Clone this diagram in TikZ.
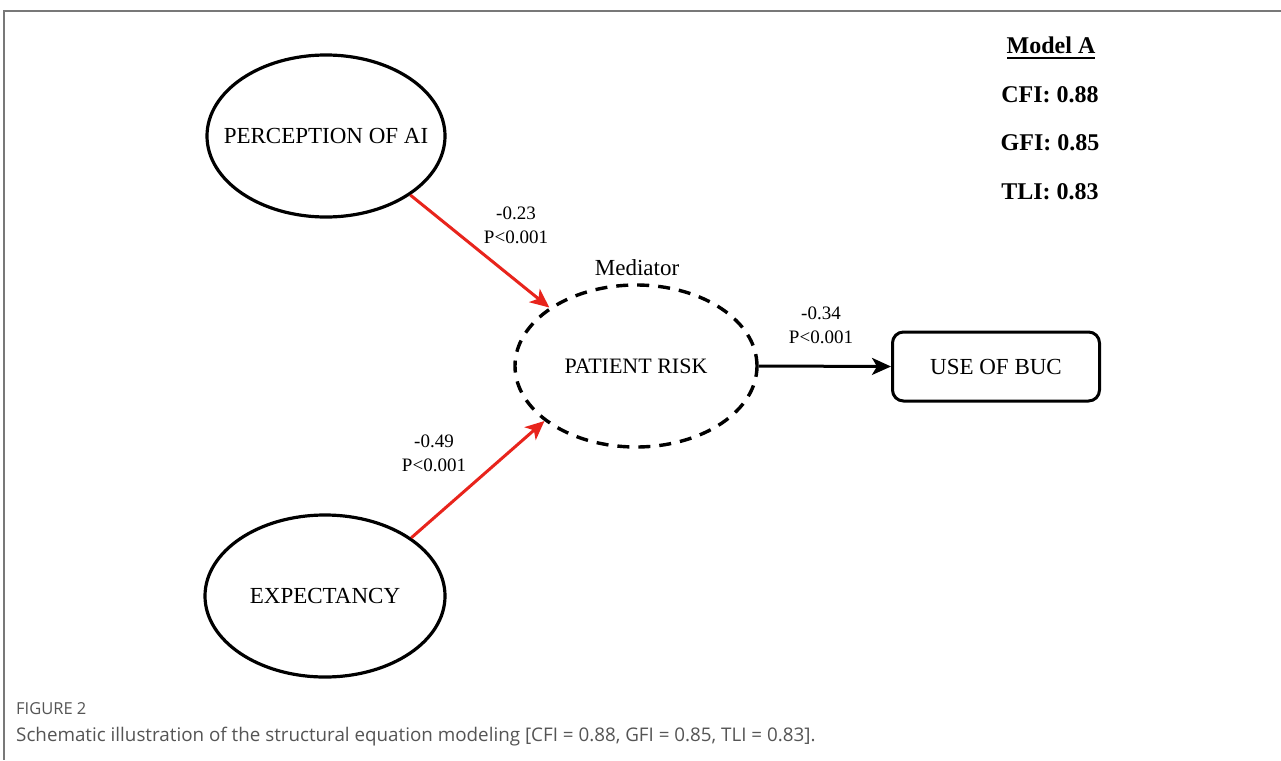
\documentclass[tikz,border=0pt]{standalone}
\usepackage{fontspec}
\setmainfont{Liberation Serif}
\newfontfamily\capfont{Open Sans}
\usetikzlibrary{shapes.geometric,arrows.meta}
\definecolor{pathred}{RGB}{232,36,28}
\definecolor{framegray}{RGB}{120,120,120}
\definecolor{capgray}{RGB}{85,85,85}
\tikzset{
  latent/.style={ellipse,draw=black,line width=3.2pt,inner sep=0pt,
    font=\fontsize{23}{27}\selectfont},
  mediatorbox/.style={ellipse,draw=black,line width=3.4pt,inner sep=0pt,
    dash pattern=on 12pt off 9pt,font=\fontsize{22}{26}\selectfont},
  observed/.style={rectangle,rounded corners=11pt,draw=black,line width=3pt,
    inner sep=0pt,font=\fontsize{23}{27}\selectfont},
  redpath/.style={draw=pathred,line width=3pt,
    -{Stealth[length=19pt,width=17pt,inset=5pt]}},
  blackpath/.style={draw=black,line width=3pt,
    -{Stealth[length=19pt,width=17pt,inset=5pt]}},
  coef/.style={align=center,font=\fontsize{19}{24}\selectfont},
  fitidx/.style={font=\bfseries\fontsize{24}{28}\selectfont},
}
% centred text that does not widen the ellipse around it
\newcommand{\flatlabel}[1]{\makebox[0pt]{#1}}
\begin{document}
\begin{tikzpicture}[x=1pt,y=-1pt]
\useasboundingbox (0,0) rectangle (1281,760);
\fill[white] (0,0) rectangle (1281,760);

% frame of the figure panel
\draw[framegray,line width=1.5pt] (1281,11) -- (4,11) -- (4,760);

% latent variables and outcome
\node[latent,minimum width=238pt,minimum height=162pt] (perc) at (326,136) {\flatlabel{PERCEPTION OF AI}};
\node[latent,minimum width=240pt,minimum height=162pt] (expe) at (325,596) {\flatlabel{EXPECTANCY}};
\node[mediatorbox,minimum width=242pt,minimum height=162pt] (risk) at (636,366) {\flatlabel{PATIENT RISK}};
\node[observed,minimum width=207pt,minimum height=69pt] (buc) at (996,366.5) {USE OF BUC};

\node[font=\fontsize{23}{27}\selectfont] (medlabel) at (637,268) {Mediator};

% paths
\draw[redpath] (perc.-35) -- (risk.146);
\draw[redpath] (expe.34) -- (risk.211);
\draw[blackpath] (risk.east) -- (buc.west);

% path coefficients
\node[coef] (c1) at (516,225) {-0.23\\P<0.001};
\node[coef] (c2) at (434,453) {-0.49\\P<0.001};
\node[coef] (c3) at (821,325) {-0.34\\P<0.001};

% model fit indices
\node[fitidx] (modA) at (1051,45) {Model A};
\draw[line width=2.4pt] ([xshift=4pt]modA.west |- 0,58) -- ([xshift=-4pt]modA.east |- 0,58);
\node[fitidx] (cfi) at (1050,95) {CFI: 0.88};
\node[fitidx] (gfi) at (1050,143) {GFI: 0.85};
\node[fitidx] (tli) at (1050,192) {TLI: 0.83};

% caption
\node[anchor=west,inner sep=0pt,text=capgray,font=\capfont\fontsize{16.5}{18}\selectfont] (fig) at (16,709) {FIGURE 2};
\node[anchor=west,inner sep=0pt,text=capgray,font=\capfont\fontsize{18.8}{21}\selectfont] (cap) at (16,737)
  {Schematic illustration of the structural equation modeling [CFI = 0.88, GFI = 0.85, TLI = 0.83].};
\end{tikzpicture}
\end{document}
